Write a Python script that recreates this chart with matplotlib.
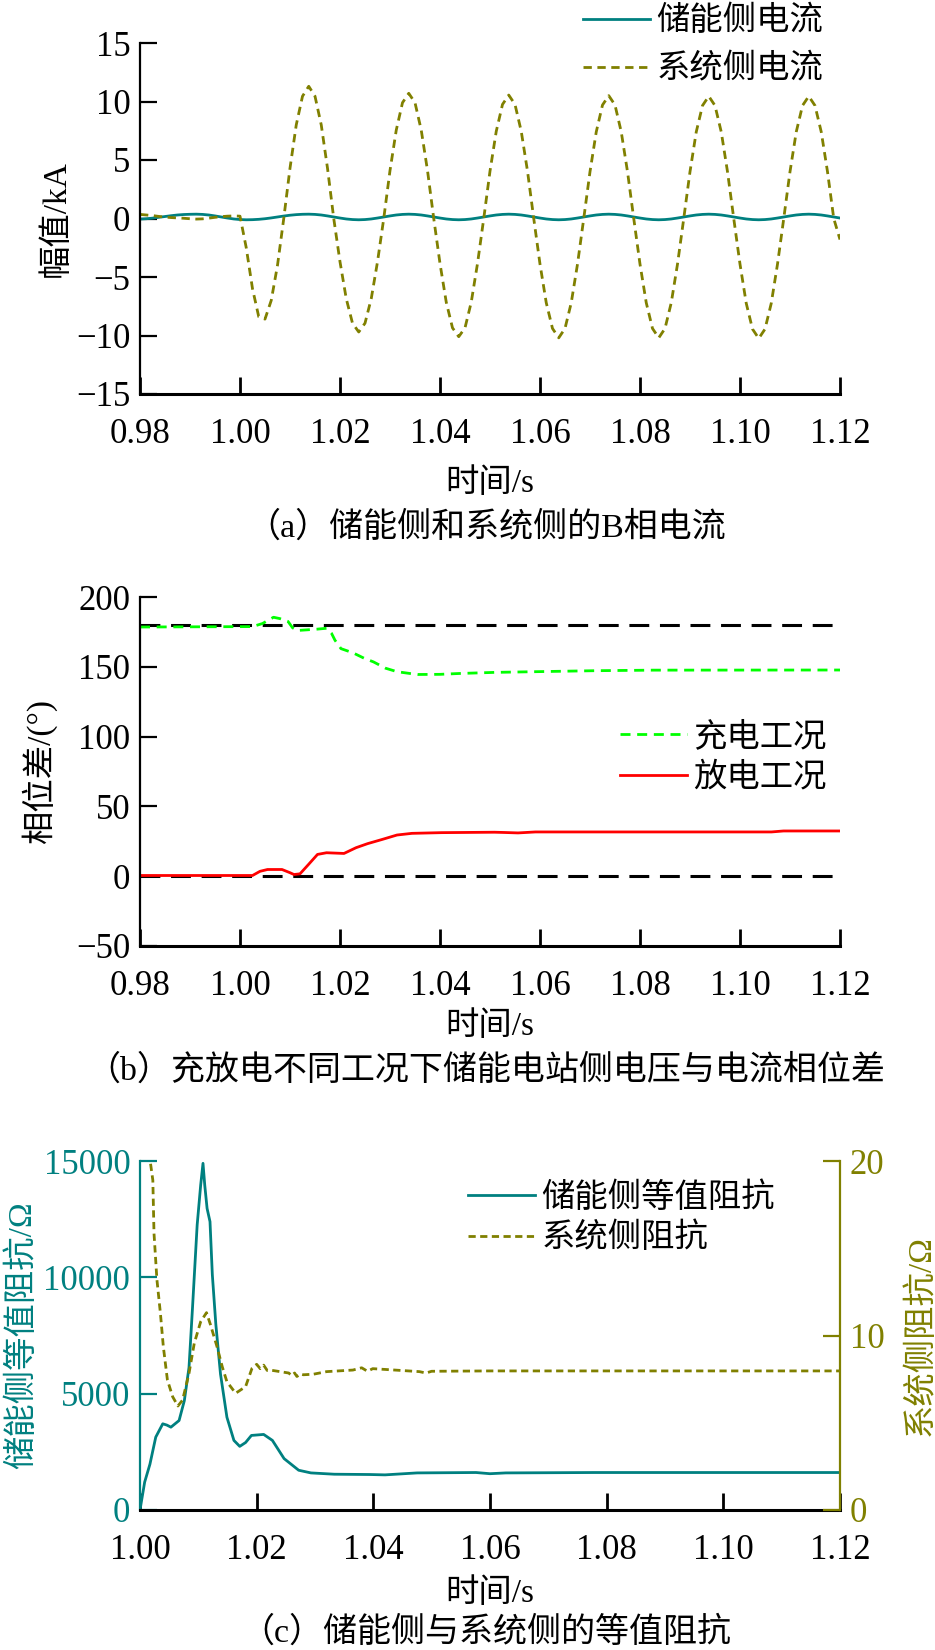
import numpy as np
import matplotlib
matplotlib.use('Agg')
import matplotlib.pyplot as plt

# ---------------- Données ----------------
# (a) courants phase B, pas de 1.25 ms
t_a = np.linspace(0.98, 1.12, 113)
i_ess = [-0.05, -0.02, 0.03, 0.10, 0.17, 0.24, 0.30, 0.34, 0.36, 0.37,
         0.35, 0.30, 0.22, 0.13, 0.04, -0.04, -0.09, -0.11, -0.10, -0.07,
         -0.02, 0.05, 0.13, 0.21, 0.28, 0.33, 0.36, 0.37,
         0.35, 0.30, 0.22, 0.13, 0.04, -0.04, -0.09, -0.11, -0.09, -0.04, 0.04, 0.13, 0.22, 0.30, 0.35, 0.37,
         0.35, 0.30, 0.22, 0.13, 0.04, -0.04, -0.09, -0.11, -0.09, -0.04, 0.04, 0.13, 0.22, 0.30, 0.35, 0.37,
         0.35, 0.30, 0.22, 0.13, 0.04, -0.04, -0.09, -0.11, -0.09, -0.04, 0.04, 0.13, 0.22, 0.30, 0.35, 0.37,
         0.35, 0.30, 0.22, 0.13, 0.04, -0.04, -0.09, -0.11, -0.09, -0.04, 0.04, 0.13, 0.22, 0.30, 0.35, 0.37,
         0.35, 0.30, 0.22, 0.13, 0.04, -0.04, -0.09, -0.11, -0.09, -0.04, 0.04, 0.13, 0.22, 0.30, 0.35, 0.37,
         0.35, 0.30, 0.22, 0.13, 0.04]
i_sys = [0.35, 0.30, 0.25, 0.18, 0.12, 0.08, 0.05, 0.02, -0.02, -0.05,
         -0.03, 0.03, 0.10, 0.16, 0.20, 0.22, 0.20,
         -2.5, -6.0, -8.4, -8.6, -7.0, -4.0, 0.0, 4.3, 8.0, 10.45, 11.3, 10.45, 8.0, 4.3, 0.0,
         -3.7, -6.85, -8.95, -9.7, -8.95, -6.85, -3.7, 0.0,
         4.1, 7.55, 9.9, 10.7, 9.9, 7.55, 4.1, 0.0,
         -3.85, -7.15, -9.35, -10.1, -9.35, -7.15, -3.85, 0.0,
         4.05, 7.45, 9.75, 10.55, 9.75, 7.45, 4.05, 0.0,
         -3.9, -7.2, -9.4, -10.2, -9.4, -7.2, -3.9, 0.0,
         4.0, 7.4, 9.7, 10.5, 9.7, 7.4, 4.0, 0.0,
         -3.9, -7.2, -9.4, -10.2, -9.4, -7.2, -3.9, 0.0,
         4.0, 7.4, 9.65, 10.45, 9.65, 7.4, 4.0, 0.0,
         -3.9, -7.25, -9.45, -10.25, -9.45, -7.25, -3.9, 0.0,
         4.0, 7.4, 9.65, 10.45, 9.65, 7.4, 4.0, 0.0,
         -1.8]

# (b) différence de phase
t_charge = [0.98, 1.0025, 1.0045, 1.0067, 1.0080, 1.0096, 1.0105, 1.0114, 1.0135, 1.0155,
            1.0173, 1.0183, 1.0190, 1.0202, 1.0226, 1.0249, 1.0267, 1.0291, 1.0314, 1.0344,
            1.0356, 1.0400, 1.0438, 1.0509, 1.0591, 1.0709, 1.0827, 1.12]
phase_charge = [178.5, 178.8, 181, 185.5, 184.5, 182.5, 178, 176, 176.5, 177,
                177.6, 174, 169, 163, 160, 156, 153.5, 149, 146.5, 145,
                144.5, 144.6, 145.2, 146, 146.5, 147.2, 147.6, 147.7]
t_dis = [0.98, 1.0025, 1.0040, 1.0055, 1.0084, 1.0100, 1.0108, 1.0120, 1.0137, 1.0155,
         1.0173, 1.0208, 1.0232, 1.0255, 1.0285, 1.0314, 1.0344, 1.0403, 1.0509, 1.0530,
         1.0556, 1.0591, 1.1063, 1.1087, 1.12]
phase_dis = [0.5, 0.5, 3.5, 4.8, 4.8, 2.5, 1.2, 1.7, 8.4, 15.6,
             16.8, 16.3, 20.4, 23.3, 26.4, 29.5, 30.7, 31.2, 31.5, 31.3,
             31.0, 31.7, 31.7, 32.4, 32.4]
ref_levels = [180, 0]

# (c) impédances équivalentes
t_zeq = [1.0000, 1.0008, 1.0017, 1.0027, 1.0039, 1.0046, 1.0053, 1.0067, 1.0076, 1.0084,
         1.0090, 1.0098, 1.0104, 1.0108, 1.0111, 1.0115, 1.0120, 1.0124, 1.0130, 1.0138,
         1.0149, 1.0161, 1.0171, 1.0181, 1.0191, 1.0212, 1.0227, 1.0247, 1.0272, 1.0293,
         1.0333, 1.0394, 1.0420, 1.0475, 1.0576, 1.0600, 1.0627, 1.0779, 1.12]
z_ess = [0, 1200, 1966, 3132, 3705, 3650, 3560, 3846, 4700, 6124,
         8688, 12252, 13962, 14900, 13962, 12962, 12393, 10115, 7979, 5842,
         3987, 2991, 2735, 2900, 3205, 3248, 2991, 2209, 1709, 1594,
         1538, 1525, 1510, 1594, 1611, 1560, 1594, 1611, 1611]
t_zs = [1.0015, 1.0018, 1.0022, 1.0024, 1.0029, 1.0035, 1.0040, 1.0047, 1.0056, 1.0065,
        1.0073, 1.0084, 1.0093, 1.0104, 1.0114, 1.0121, 1.0132, 1.0141, 1.0149, 1.0164,
        1.0181, 1.0192, 1.0200, 1.0206, 1.0212, 1.0218, 1.0223, 1.0240, 1.0255, 1.0260,
        1.0265, 1.0269, 1.0275, 1.0280, 1.0297, 1.0320, 1.0365, 1.0380, 1.0390, 1.0399,
        1.0479, 1.0490, 1.0500, 1.0600, 1.12]
z_sys = [20.5, 19.87, 18.9, 15.86, 13.2, 11.27, 9.36, 7.45, 6.49, 5.96,
         6.3, 7.83, 9.55, 10.79, 11.31, 10.6, 9.36, 8.21, 7.35, 6.69,
         7.07, 8.12, 8.35, 8.1, 8.3, 8.0, 8.02, 7.93, 7.85, 7.7,
         7.85, 7.65, 7.8, 7.75, 7.78, 7.93, 8.02, 8.15, 7.95, 8.1,
         7.93, 7.85, 7.95, 7.97, 7.97]

xticks_ab = [0.98, 1.00, 1.02, 1.04, 1.06, 1.08, 1.10, 1.12]
xticks_c = [1.00, 1.02, 1.04, 1.06, 1.08, 1.10, 1.12]

# ---------------- Mise en page ----------------
plt.rcParams['font.family'] = ['Liberation Serif', 'Noto Sans CJK SC']
W, H = 935, 1650
TEAL, OLIVE = '#008080', '#808000'
FS_TXT, FS_TICK = 24, 25

fig = plt.figure(figsize=(W / 100, H / 100), dpi=100, facecolor='white')


def axes_px(left, top, right, bottom):
    return fig.add_axes([left / W, 1 - bottom / H, (right - left) / W, (bottom - top) / H])


def style(ax):
    for s in ['top', 'right']:
        ax.spines[s].set_visible(False)
    ax.spines['left'].set_linewidth(1.6)
    ax.spines['bottom'].set_linewidth(2.2)
    ax.tick_params(axis='both', direction='in', length=12, width=1.6, labelsize=FS_TICK)
    ax.tick_params(axis='x', pad=17, width=2.0)
    ax.tick_params(axis='y', pad=7)


def labels(ax, ylab, ylab_x, xlab_y, top, bottom, caption, cap_y, ycolor='black'):
    h = bottom - top
    ax.set_ylabel(ylab, fontsize=FS_TXT, va='center', color=ycolor)
    ax.yaxis.set_label_coords((ylab_x - 140) / 700, 0.5)
    ax.set_xlabel('时间/s', fontsize=FS_TXT, va='center')
    ax.xaxis.set_label_coords(0.5, (bottom - xlab_y) / h)
    fig.text(486 / W, 1 - cap_y / H, caption, fontsize=24.5, ha='center', va='center')


def legend(ax, handles, x, top, spacing):
    ax.legend(handles=handles, loc='upper left', bbox_to_anchor=(x / W, 1 - top / H),
              bbox_transform=fig.transFigure, frameon=False, fontsize=FS_TXT,
              handlelength=2.0, handletextpad=0.2, labelspacing=spacing,
              borderpad=0, borderaxespad=0)


# ---- (a) ----
ax1 = axes_px(140, 43, 840, 394)
style(ax1)
l1, = ax1.plot(t_a, i_ess, color=TEAL, lw=2.0, label='储能侧电流')
l2, = ax1.plot(t_a, i_sys, color=OLIVE, lw=2.0, dashes=(3, 2), label='系统侧电流')
ax1.set_xlim(0.98, 1.12)
ax1.set_ylim(-15, 15)
ax1.set_xticks(xticks_ab)
ax1.set_xticklabels([f'{v:.2f}' for v in xticks_ab])
ax1.set_yticks([15, 10, 5, 0, -5, -10, -15])
labels(ax1, '幅值/kA', 56, 484, 43, 394, '（a）储能侧和系统侧的B相电流', 528)
legend(ax1, [l1, l2], 583, 6, 0.51)

# ---- (b) ----
ax2 = axes_px(140, 597, 840, 946)
style(ax2)
for lv in ref_levels:
    ax2.axhline(lv, color='black', lw=2.2, dashes=(6.5, 3.5))
l3, = ax2.plot(t_charge, phase_charge, color='#00FF00', lw=2.0, dashes=(3.6, 2.4), label='充电工况')
l4, = ax2.plot(t_dis, phase_dis, color='#FF0000', lw=2.0, label='放电工况')
ax2.set_xlim(0.98, 1.12)
ax2.set_ylim(-50, 200)
ax2.set_xticks(xticks_ab)
ax2.set_xticklabels([f'{v:.2f}' for v in xticks_ab])
ax2.set_yticks([200, 150, 100, 50, 0, -50])
labels(ax2, '相位差/(°)', 39, 1027, 597, 946, '（b）充放电不同工况下储能电站侧电压与电流相位差', 1071)
legend(ax2, [l3, l4], 620, 722, 0.3)

# ---- (c) ----
ax3 = axes_px(140, 1161, 840, 1510)
style(ax3)
ax3.spines['left'].set_color(TEAL)
ax3.tick_params(axis='y', colors=TEAL)
l5, = ax3.plot(t_zeq, z_ess, color=TEAL, lw=2.0, label='储能侧等值阻抗')
ax3.set_xlim(1.00, 1.12)
ax3.set_ylim(0, 15000)
ax3.set_xticks(xticks_c)
ax3.set_xticklabels([f'{v:.2f}' for v in xticks_c])
ax3.set_yticks([0, 5000, 10000, 15000])
labels(ax3, '储能侧等值阻抗/Ω', 22, 1594, 1161, 1510, '（c）储能侧与系统侧的等值阻抗', 1632, ycolor=TEAL)

ax3r = ax3.twinx()
for s in ['top', 'left', 'bottom']:
    ax3r.spines[s].set_visible(False)
ax3r.spines['right'].set_color(OLIVE)
ax3r.spines['right'].set_linewidth(1.6)
ax3r.tick_params(axis='y', direction='in', length=12, width=1.6, labelsize=FS_TICK,
                 colors=OLIVE, pad=7)
l6, = ax3r.plot(t_zs, z_sys, color=OLIVE, lw=2.0, dashes=(2.6, 1.6), label='系统侧阻抗')
ax3r.set_ylim(0, 20)
ax3r.set_yticks([0, 10, 20])
ax3r.set_ylabel('系统侧阻抗/Ω', fontsize=FS_TXT, color=OLIVE, va='center')
ax3r.yaxis.set_label_coords((921 - 140) / 700, 0.5)
legend(ax3r, [l5, l6], 468, 1182, 0.27)

fig.savefig('out.png', dpi=100, facecolor='white')
